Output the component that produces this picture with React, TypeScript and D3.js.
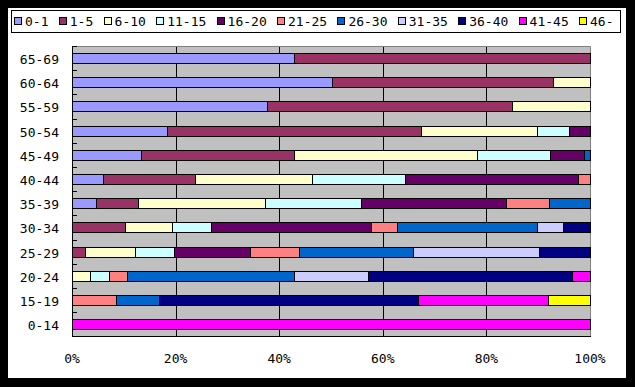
import React from 'react';
import { scaleBand, scaleLinear, stack, stackOffsetExpand } from 'd3';

// age groups, top row first
const ageGroups = ['65-69', '60-64', '55-59', '50-54', '45-49', '40-44', '35-39', '30-34', '25-29', '20-24', '15-19', '0-14'];

const seriesNames = ['0-1', '1-5', '6-10', '11-15', '16-20', '21-25', '26-30', '31-35', '36-40', '41-45', '46-'];
const seriesColors = ['#9999FF', '#993366', '#FFFFCC', '#CCFFFF', '#660066', '#FF8080', '#0066CC', '#CCCCFF', '#000080', '#FF00FF', '#FFFF00'];

// percentage shares per age group (same order as ageGroups)
const s0_1 = [42.9, 50.1, 37.6, 18.4, 13.3, 6.0, 4.6, 0, 0, 0, 0, 0];
const s1_5 = [57.1, 42.8, 47.4, 49.0, 29.6, 17.8, 8.2, 10.3, 2.6, 0, 0, 0];
const s6_10 = [0, 7.1, 15.0, 22.4, 35.2, 22.6, 24.5, 9.1, 9.6, 3.5, 0, 0];
const s11_15 = [0, 0, 0, 6.2, 14.2, 17.9, 18.5, 7.5, 7.4, 3.7, 0, 0];
const s16_20 = [0, 0, 0, 4.0, 6.6, 33.4, 28.0, 30.9, 14.7, 0, 0, 0];
const s21_25 = [0, 0, 0, 0, 0, 2.3, 8.2, 5.0, 9.6, 3.5, 8.4, 0];
const s26_30 = [0, 0, 0, 0, 1.1, 0, 8.0, 27.0, 22.0, 32.2, 8.3, 0];
const s31_35 = [0, 0, 0, 0, 0, 0, 0, 5.0, 24.3, 14.3, 0, 0];
const s36_40 = [0, 0, 0, 0, 0, 0, 0, 5.2, 9.8, 39.3, 50.0, 0];
const s41_45 = [0, 0, 0, 0, 0, 0, 0, 0, 0, 3.5, 25.1, 100];
const s46 = [0, 0, 0, 0, 0, 0, 0, 0, 0, 0, 8.2, 0];

const xTicks = [0, 0.2, 0.4, 0.6, 0.8, 1];

const allSeries = [s0_1, s1_5, s6_10, s11_15, s16_20, s21_25, s26_30, s31_35, s36_40, s41_45, s46];

const W = 635;
const H = 387;
const plot = { left: 72, right: 590, top: 46, bottom: 336.3 };
const font = '"DejaVu Sans Mono", monospace';
const charW = 7.8;

// legend: square, label, gap
const legendX: number[] = [];
seriesNames.reduce((x, s) => {
  legendX.push(x);
  return x + 12 + s.length * charW + 9.4;
}, 14);

const App = () => {
  const rows = ageGroups.map((g, i) => {
    const row: any = { group: g };
    seriesNames.forEach((s, j) => { row[s] = allSeries[j][i]; });
    return row;
  });

  const layers = stack().keys(seriesNames).offset(stackOffsetExpand)(rows);

  const xScale = scaleLinear().domain([0, 1]).range([plot.left, plot.right]);
  const yScale = scaleBand()
    .domain(ageGroups)
    .range([plot.top, plot.bottom])
    .paddingInner(0.58)
    .paddingOuter(0.29);

  const step = yScale.step();
  const boundaries = ageGroups.map((_, i) => plot.top + i * step).concat([plot.bottom]);

  return (
    <svg width={W} height={H} style={{ position: 'absolute', left: 0, top: 0 }}>
      <rect x={0} y={0} width={W} height={H} fill="black" />
      <rect x={8} y={8} width={618} height={370} fill="white" />

      {/* legend */}
      <rect x={11.5} y={10.5} width={609} height={22} fill="white" stroke="black" />
      {seriesNames.map((s, i) => (
        <g key={s}>
          <rect x={Math.round(legendX[i]) + 0.5} y={17.5} width={7} height={7} fill={seriesColors[i]} stroke="black" />
          <text x={legendX[i] + 11} y={26} style={{ fontFamily: font, fontSize: '13px' }}>{s}</text>
        </g>
      ))}

      {/* plot area */}
      <rect x={plot.left} y={plot.top} width={plot.right - plot.left} height={plot.bottom - plot.top} fill="#C0C0C0" />
      {xTicks.slice(1, -1).map(t => (
        <line key={t} x1={Math.round(xScale(t)) + 0.5} x2={Math.round(xScale(t)) + 0.5}
          y1={plot.top} y2={plot.bottom} stroke="black" />
      ))}
      <path d={`M ${plot.left} ${plot.top + 0.5} H ${plot.right + 0.5} V ${Math.round(plot.bottom)}`}
        fill="none" stroke="#808080" />

      {layers.map((layer, i) => (
        <g key={layer.key}>
          {layer.map((d: any, j) => {
            const x0 = xScale(d[0]);
            const x1 = xScale(d[1]);
            if (x1 - x0 < 0.3) return null;
            const y = yScale(d.data.group) as number;
            return (
              <rect
                key={j}
                x={Math.round(x0) + 0.5}
                y={Math.round(y) + 0.5}
                width={Math.round(x1) - Math.round(x0)}
                height={Math.round(yScale.bandwidth())}
                fill={seriesColors[i]}
                stroke="black"
              />
            );
          })}
        </g>
      ))}

      {/* axes */}
      <path d={`M ${plot.left + 0.5} ${plot.top} V ${Math.round(plot.bottom) + 0.5} H ${plot.right + 1}`}
        fill="none" stroke="black" />
      {boundaries.map((b, i) => (
        <line key={i} x1={plot.left} x2={plot.left + 5} y1={Math.round(b) + 0.5} y2={Math.round(b) + 0.5} stroke="black" />
      ))}
      {ageGroups.map(g => (
        <text key={g} x={59} y={(yScale(g) as number) + yScale.bandwidth() / 2 + 6}
          textAnchor="end" style={{ fontFamily: font, fontSize: '13px' }}>{g}</text>
      ))}
      {xTicks.map(t => (
        <text key={t} x={xScale(t)} y={363} textAnchor="middle"
          style={{ fontFamily: font, fontSize: '13px' }}>{Math.round(t * 100) + '%'}</text>
      ))}
    </svg>
  );
};

export default App;
